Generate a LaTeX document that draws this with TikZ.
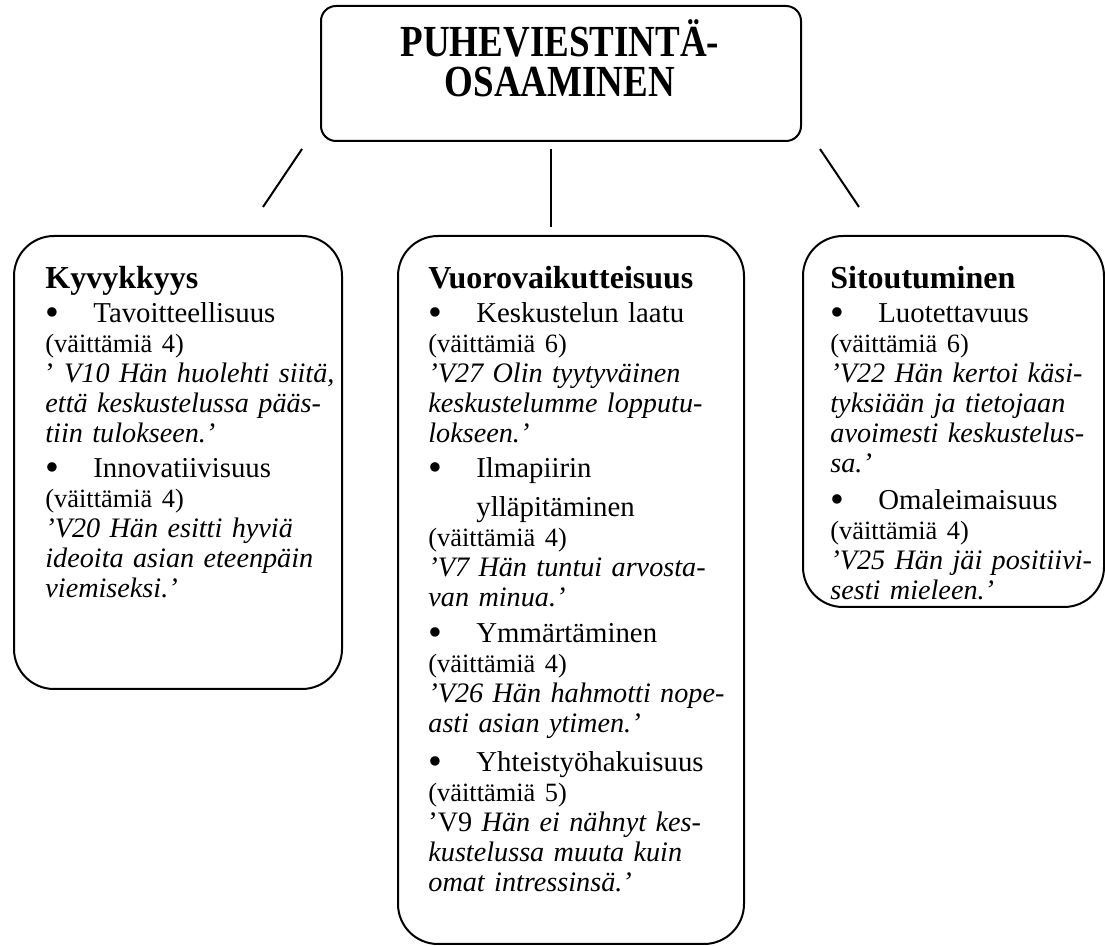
\documentclass[tikz,border=0pt]{standalone}
\usepackage{graphicx}
\usepackage{fontspec}
\setmainfont{Liberation Serif}
\newcommand\bul[1]{\makebox[24pt][l]{\smash{\raisebox{-1.4pt}{\scalebox{1.4}{•}}}}{\fontsize{14.4pt}{15pt}\selectfont #1}}
\newcommand\hd[1]{{\fontsize{16pt}{15pt}\selectfont\bfseries #1}}
\newcommand\va[1]{{\fontsize{13.2pt}{15pt}\selectfont (väittämiä #1)}}
\begin{document}
\begin{tikzpicture}[x=0.5pt,y=-0.5pt,
  box/.style={draw, line width=1pt, rounded corners=20pt, anchor=north west, inner sep=0pt},
  txt/.style={anchor=base west, inner sep=0pt, text width=160pt, align=left,
    font=\fontsize{14.1pt}{15pt}\selectfont},
  ttl/.style={anchor=base, inner sep=0pt, yscale=1.2,
    font=\fontsize{18.5pt}{16pt}\selectfont\bfseries},
  conn/.style={line width=1pt}]
\useasboundingbox (0,0) rectangle (1105,946);
% boxes
\node[box, rounded corners=7.5pt, minimum width=240pt, minimum height=67.5pt] (top) at (320,5) {};
\node[box, minimum width=164pt, minimum height=226.5pt] (left) at (13,235) {};
\node[box, minimum width=173pt, minimum height=354pt] (mid) at (397,235) {};
\node[box, minimum width=150.5pt, minimum height=185.5pt] (right) at (802,235) {};
% title
\node[ttl] (title1) at (560,57) {PUHEVIESTINTÄ-};
\node[ttl] (title2) at (560,97) {OSAAMINEN};
% connectors
\coordinate (a1) at (302,149); \coordinate (a2) at (263,207);
\coordinate (b1) at (551,149); \coordinate (b2) at (551,227);
\coordinate (c1) at (820,149); \coordinate (c2) at (859,207);
\draw[conn] (a1) -- (a2);
\draw[conn] (b1) -- (b2);
\draw[conn] (c1) -- (c2);
% left text
\node[txt] (ltext) at (45,289) {\hd{Kyvykkyys}\\[2pt]
\bul{Tavoitteellisuus}\\
\va{4}\\
’ \textit{V10 Hän huolehti siitä,}\\
\textit{että keskustelussa pääs-}\\
\textit{tiin tulokseen.’}\\[2.5pt]
\bul{Innovatiivisuus}\\
\va{4}\\
\textit{’V20 Hän esitti hyviä}\\
\textit{ideoita asian eteenpäin}\\
\textit{viemiseksi.’}};
% middle text
\node[txt] (mtext) at (428,289) {\hd{Vuorovaikutteisuus}\\[2pt]
\bul{Keskustelun laatu}\\
\va{6}\\
\textit{’V27 Olin tyytyväinen}\\
\textit{keskustelumme lopputu-}\\
\textit{lokseen.’}\\[2.5pt]
\bul{Ilmapiirin}\\[4.5pt]
\hspace*{24pt}{\fontsize{14.4pt}{15pt}\selectfont ylläpitäminen}\\
\va{4}\\
\textit{’V7 Hän tuntui arvosta-}\\
\textit{van minua.’}\\[3pt]
\bul{Ymmärtäminen}\\
\va{4}\\
\textit{’V26 Hän hahmotti nope-}\\
\textit{asti asian ytimen.’}\\[4.5pt]
\bul{Yhteistyöhakuisuus}\\
\va{5}\\
’V9 \textit{Hän ei nähnyt kes-}\\
\textit{kustelussa muuta kuin}\\
\textit{omat intressinsä.’}};
% right text
\node[txt] (rtext) at (830,289) {\hd{Sitoutuminen}\\[2pt]
\bul{Luotettavuus}\\
\va{6}\\
\textit{’V22 Hän kertoi käsi-}\\
\textit{tyksiään ja tietojaan}\\
\textit{avoimesti keskustelus-}\\
\textit{sa.’}\\[3.5pt]
\bul{Omaleimaisuus}\\
\va{4}\\
\textit{’V25 Hän jäi positiivi-}\\
\textit{sesti mieleen.’}};
\end{tikzpicture}
\end{document}
